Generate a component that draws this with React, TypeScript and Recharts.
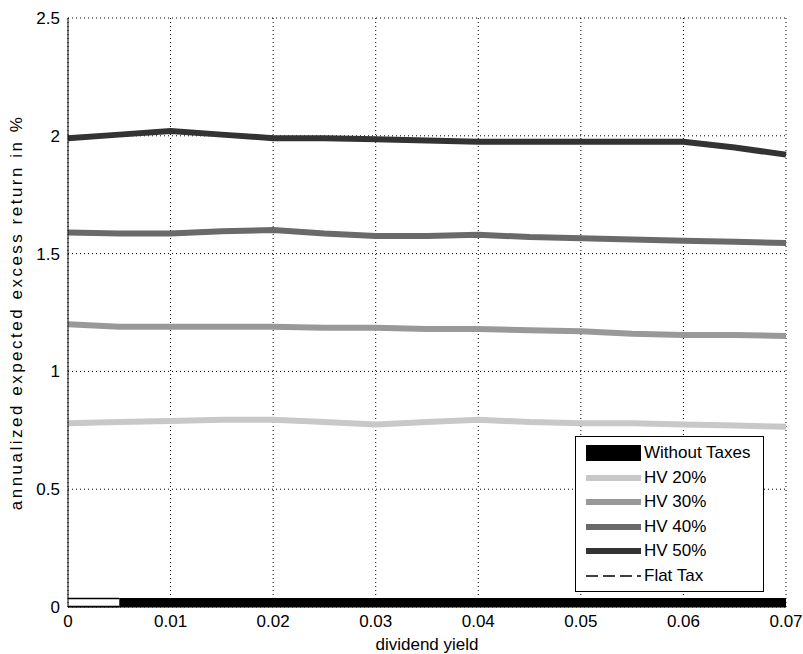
import { LineChart, Line, XAxis, YAxis, CartesianGrid } from "recharts";

// dividend yield grid (step 0.005)
const yields = [0, 0.005, 0.01, 0.015, 0.02, 0.025, 0.03, 0.035, 0.04, 0.045, 0.05, 0.055, 0.06, 0.065, 0.07];

const hv20 = [0.78, 0.785, 0.79, 0.795, 0.795, 0.785, 0.775, 0.785, 0.795, 0.785, 0.78, 0.78, 0.775, 0.77, 0.765];
const hv30 = [1.2, 1.19, 1.19, 1.19, 1.19, 1.185, 1.185, 1.18, 1.18, 1.175, 1.17, 1.16, 1.155, 1.155, 1.15];
const hv40 = [1.59, 1.585, 1.585, 1.595, 1.6, 1.585, 1.575, 1.575, 1.58, 1.57, 1.565, 1.56, 1.555, 1.55, 1.545];
const hv50 = [1.99, 2.005, 2.02, 2.005, 1.99, 1.99, 1.985, 1.98, 1.975, 1.975, 1.975, 1.975, 1.975, 1.95, 1.92];
const ohneSteuern = [null, 0.019, 0.019, 0.019, 0.019, 0.019, 0.019, 0.019, 0.019, 0.019, 0.019, 0.019, 0.019, 0.019, 0.019];
const flatOben = [0.036, 0.036, null, null, null, null, null, null, null, null, null, null, null, null, null];
const flatUnten = [0.002, 0.002, null, null, null, null, null, null, null, null, null, null, null, null, null];

const xTicks = [0, 0.01, 0.02, 0.03, 0.04, 0.05, 0.06, 0.07];
const yTicks = [0, 0.5, 1, 1.5, 2, 2.5];

const datos = yields.map((x, i) => ({
  x,
  ohne: ohneSteuern[i],
  hv20: hv20[i],
  hv30: hv30[i],
  hv40: hv40[i],
  hv50: hv50[i],
  flatA: flatOben[i],
  flatB: flatUnten[i],
}));

const eintraege = [
  { name: "Without Taxes", color: "#000", w: 16, dash: "" },
  { name: "HV 20%", color: "#c8c8c8", w: 6, dash: "" },
  { name: "HV 30%", color: "#999", w: 6, dash: "" },
  { name: "HV 40%", color: "#6a6a6a", w: 6, dash: "" },
  { name: "HV 50%", color: "#333", w: 6, dash: "" },
  { name: "Flat Tax", color: "#000", w: 1.5, dash: "12 5" },
];

const schrift = "'Liberation Sans', Arial, sans-serif";

function LegendBox() {
  return (
    <div
      style={{
        position: "absolute",
        left: 575,
        top: 436,
        width: 189,
        height: 156,
        border: "1px solid #000",
        background: "#fff",
        fontFamily: schrift,
        fontSize: 17,
        color: "#000",
        paddingTop: 4,
        boxSizing: "border-box",
        whiteSpace: "nowrap",
      }}
    >
      {eintraege.map((e) => (
        <div key={e.name} style={{ display: "flex", alignItems: "center", height: 24.5 }}>
          <svg width={66} height={20} style={{ flex: "none" }}>
            <line x1={10} x2={65} y1={10} y2={10} stroke={e.color} strokeWidth={e.w} strokeDasharray={e.dash} />
          </svg>
          <span style={{ marginLeft: 2 }}>{e.name}</span>
        </div>
      ))}
    </div>
  );
}

export default function App() {
  return (
    <div style={{ position: "absolute", left: 0, top: 0, width: 803, height: 654, background: "#fff" }}>
      <LineChart width={803} height={654} data={datos} margin={{ top: 18, right: 17, left: 0, bottom: 0 }}>
        <CartesianGrid stroke="#000" strokeDasharray="1 3" horizontalValues={yTicks} verticalValues={xTicks} />
        <XAxis
          dataKey="x"
          type="number"
          domain={[0, 0.07]}
          ticks={xTicks}
          height={47}
          tickLine={false}
          axisLine={{ stroke: "#000" }}
          tick={{ fill: "#000", fontSize: 17, fontFamily: schrift }}
          tickFormatter={(v) => String(v)}
          label={{ value: "dividend yield", position: "insideBottom", offset: 4, fill: "#000", fontSize: 17, fontFamily: schrift }}
        />
        <YAxis
          type="number"
          domain={[0, 2.5]}
          ticks={yTicks}
          width={68}
          tickLine={false}
          axisLine={{ stroke: "#000" }}
          tick={{ fill: "#000", fontSize: 17, fontFamily: schrift }}
          label={{
            value: "annualized expected excess return in %",
            angle: -90,
            position: "insideLeft",
            offset: 16,
            style: { textAnchor: "middle", letterSpacing: 2.5 },
            fill: "#000",
            fontSize: 17,
            fontFamily: schrift,
          }}
        />
        <Line dataKey="hv20" stroke="#c8c8c8" strokeWidth={6} dot={false} isAnimationActive={false} />
        <Line dataKey="hv30" stroke="#999" strokeWidth={6} dot={false} isAnimationActive={false} />
        <Line dataKey="hv40" stroke="#6a6a6a" strokeWidth={6} dot={false} isAnimationActive={false} />
        <Line dataKey="hv50" stroke="#333" strokeWidth={6} dot={false} isAnimationActive={false} />
        <Line dataKey="ohne" stroke="#000" strokeWidth={9} strokeLinecap="butt" dot={false} isAnimationActive={false} />
        <Line dataKey="flatA" stroke="#000" strokeWidth={1.5} dot={false} isAnimationActive={false} />
        <Line dataKey="flatB" stroke="#000" strokeWidth={1.5} dot={false} isAnimationActive={false} />
      </LineChart>
      <LegendBox />
    </div>
  );
}
